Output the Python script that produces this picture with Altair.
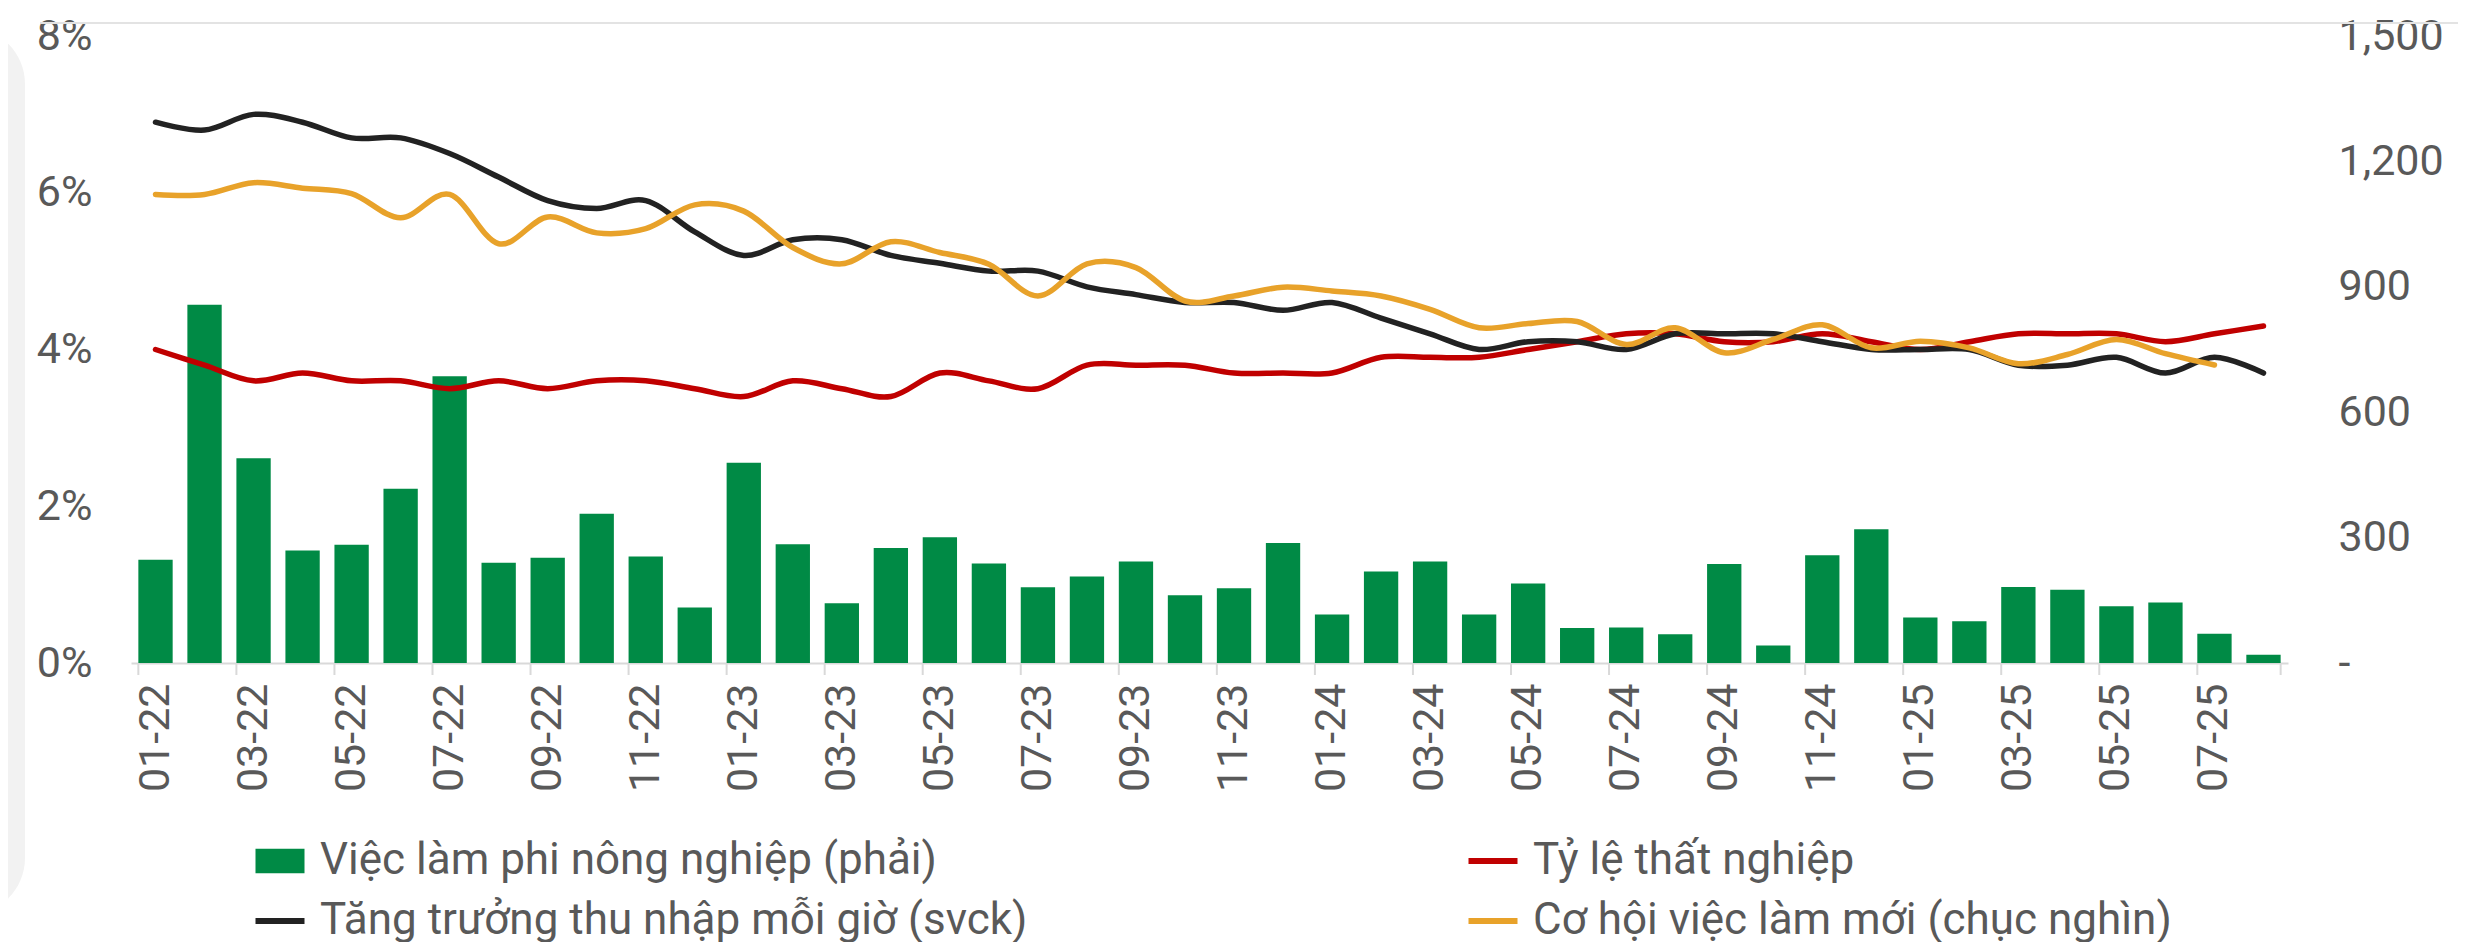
import altair as alt
import pandas as pd

months = ["01-22", "02-22", "03-22", "04-22", "05-22", "06-22", "07-22", "08-22", "09-22", "10-22", "11-22", "12-22",
          "01-23", "02-23", "03-23", "04-23", "05-23", "06-23", "07-23", "08-23", "09-23", "10-23", "11-23", "12-23",
          "01-24", "02-24", "03-24", "04-24", "05-24", "06-24", "07-24", "08-24", "09-24", "10-24", "11-24", "12-24",
          "01-25", "02-25", "03-25", "04-25", "05-25", "06-25", "07-25", "08-25"]
tick_months = ["01-22", "03-22", "05-22", "07-22", "09-22", "11-22",
               "01-23", "03-23", "05-23", "07-23", "09-23", "11-23",
               "01-24", "03-24", "05-24", "07-24", "09-24", "11-24",
               "01-25", "03-25", "05-25", "07-25"]

# Non-farm payrolls (thousand), right axis
jobs = [247, 857, 490, 269, 283, 417, 686, 240, 252, 357, 255, 133,
        479, 284, 143, 275, 301, 238, 181, 207, 243, 162, 179, 287,
        116, 219, 243, 116, 190, 84, 85, 69, 237, 42, 258, 320,
        109, 100, 182, 175, 136, 145, 70, 20]
# Unemployment rate (%), left axis
unemployment = [4.0, 3.8, 3.6, 3.7, 3.6, 3.6, 3.5, 3.6, 3.5, 3.6, 3.6, 3.5,
                3.4, 3.6, 3.5, 3.4, 3.7, 3.6, 3.5, 3.8, 3.8, 3.8, 3.7, 3.7,
                3.7, 3.9, 3.9, 3.9, 4.0, 4.1, 4.2, 4.2, 4.1, 4.1, 4.2, 4.1,
                4.0, 4.1, 4.2, 4.2, 4.2, 4.1, 4.2, 4.3]
# Hourly earnings growth yoy (%), left axis
earnings = [6.9, 6.8, 7.0, 6.9, 6.7, 6.7, 6.5, 6.2, 5.9, 5.8, 5.9, 5.5,
            5.2, 5.4, 5.4, 5.2, 5.1, 5.0, 5.0, 4.8, 4.7, 4.6, 4.6, 4.5,
            4.6, 4.4, 4.2, 4.0, 4.1, 4.1, 4.0, 4.2, 4.2, 4.2, 4.1, 4.0,
            4.0, 4.0, 3.8, 3.8, 3.9, 3.7, 3.9, 3.7]
# Job openings (tens of thousands), right axis; no value for the last month
openings = [1121, 1121, 1149, 1136, 1123, 1065, 1121, 1003, 1067, 1029, 1039, 1096,
            1081, 994, 955, 1008, 982, 954, 878, 955, 946, 866, 878, 899,
            890, 878, 846, 802, 812, 817, 762, 802, 742, 774, 809, 754,
            770, 754, 716, 738, 774, 740, 713]

L_JOBS = "Việc làm phi nông nghiệp (phải)"
L_UNEMP = "Tỷ lệ thất nghiệp"
L_EARN = "Tăng trưởng thu nhập mỗi giờ (svck)"
L_OPEN = "Cơ hội việc làm mới (chục nghìn)"
# legend is filled column by column: col 1 = jobs, earnings; col 2 = unemployment, openings
series_order = [L_JOBS, L_EARN, L_UNEMP, L_OPEN]

GREEN = "#008A45"
RED = "#C00000"
BLACK = "#222222"
ORANGE = "#E8A22A"
TEXT = "#595959"
AXISLINE = "#D9D9D9"
FONT = "Roboto"
FS = 43
LFS = 44

W, H = 2157, 627

bars_df = pd.DataFrame({"month": months, "value": jobs, "series": L_JOBS})
left_df = pd.concat([
    pd.DataFrame({"month": months, "value": [v / 100 for v in unemployment], "series": L_UNEMP}),
    pd.DataFrame({"month": months, "value": [v / 100 for v in earnings], "series": L_EARN}),
])
open_df = pd.DataFrame({"month": months[:len(openings)], "value": openings, "series": L_OPEN})
ticks_df = pd.DataFrame({"month": tick_months})
end_df = pd.DataFrame({"month": months[-1:]})
deco_df = pd.DataFrame({"k": [0]})

x_scale = alt.Scale(domain=months, paddingInner=0.3, paddingOuter=0.15)
x_axis = alt.Axis(values=tick_months, labelAngle=270, ticks=False, tickSize=0,
                  labelPadding=20, domainColor=AXISLINE, domainWidth=2,
                  labelFontSize=FS, labelColor=TEXT, labelFont=FONT)

is_bar = "datum.value === '%s'" % L_JOBS
legend = alt.Legend(
    title=None, orient="none", legendX=127, legendY=803, columns=2,
    columnPadding=428, rowPadding=16, labelOffset=18, padding=0,
    symbolSize=2401, labelFontSize=LFS, labelColor=TEXT, labelFont=FONT,
    labelLimit=1500,
    symbolType={"expr": "%s ? 'M-1,-0.5H1V0.5H-1Z' : 'stroke'" % is_bar},
    symbolFillColor={"expr": "%s ? '%s' : 'transparent'" % (is_bar, GREEN)},
    symbolStrokeColor={"expr": "scale('color', datum.value)"},
    symbolStrokeWidth={"expr": "%s ? 0 : 6" % is_bar},
    symbolOpacity=1,
)
color_enc = alt.Color("series:N", scale=alt.Scale(domain=series_order, range=[GREEN, BLACK, RED, ORANGE]),
                      legend=legend)

panel = alt.Chart(deco_df).mark_rect(color="#F2F2F2", cornerRadius=60).encode(
    x=alt.value(-220), x2=alt.value(-106), y=alt.value(-9), y2=alt.value(879))
topline = alt.Chart(deco_df).mark_rule(color="#E3E3E3", strokeWidth=2).encode(
    x=alt.value(-91), x2=alt.value(2327), y=alt.value(-13))

bars = alt.Chart(bars_df).mark_bar(color=GREEN).encode(
    x=alt.X("month:N", scale=x_scale, title=None, axis=x_axis),
    y=alt.Y("value:Q", scale=alt.Scale(domain=[0, 1500], nice=False), title=None,
            axis=alt.Axis(orient="right", values=[0, 300, 600, 900, 1200, 1500],
                          labelExpr="datum.value == 0 ? '-' : format(datum.value, ',')",
                          domain=False, ticks=False, tickSize=0, grid=False, labelPadding=50,
                          labelAlign="left", labelFontSize=FS, labelColor=TEXT, labelFont=FONT)),
    color=color_enc,
)

tick_rules = alt.Chart(ticks_df).mark_rule(color=AXISLINE, strokeWidth=2).encode(
    x=alt.X("month:N", scale=x_scale, bandPosition=0, title=None, axis=x_axis),
    y=alt.value(H), y2=alt.value(H + 12))
end_rule = alt.Chart(end_df).mark_rule(color=AXISLINE, strokeWidth=2).encode(
    x=alt.X("month:N", scale=x_scale, bandPosition=1, title=None, axis=x_axis),
    y=alt.value(H), y2=alt.value(H + 12))

left_lines = alt.Chart(left_df).mark_line(interpolate="cardinal", strokeWidth=5.5, strokeCap="round").encode(
    x=alt.X("month:N", scale=x_scale, title=None, axis=x_axis),
    y=alt.Y("value:Q", scale=alt.Scale(domain=[0, 0.08], nice=False), title=None,
            axis=alt.Axis(orient="left", values=[0, 0.02, 0.04, 0.06, 0.08], format=".0%",
                          domain=False, ticks=False, tickSize=0, grid=False, labelPadding=39,
                          labelFontSize=FS, labelColor=TEXT, labelFont=FONT)),
    color=color_enc,
    detail="series:N",
)

open_line = alt.Chart(open_df).mark_line(interpolate="cardinal", strokeWidth=5.5, strokeCap="round").encode(
    x=alt.X("month:N", scale=x_scale, title=None, axis=x_axis),
    y=alt.Y("value:Q", scale=alt.Scale(domain=[0, 1500], nice=False), axis=None),
    color=color_enc,
)

chart = alt.layer(panel, topline, bars, tick_rules, end_rule, left_lines, open_line).resolve_scale(
    y="independent"
).properties(
    width=W, height=H,
    padding={"left": 123, "top": 28, "right": 183, "bottom": 285},
    autosize=alt.AutoSizeParams(type="none"),
).configure(font=FONT).configure_view(stroke=None).configure_axis(grid=False)

chart.save("out.html", embed_options={"renderer": "svg", "actions": False})
